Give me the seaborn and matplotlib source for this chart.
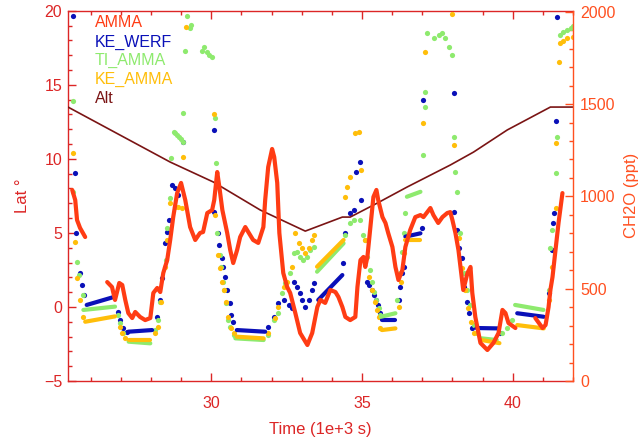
import numpy as np
import pandas as pd
import matplotlib
matplotlib.use("Agg")
import matplotlib.pyplot as plt
import seaborn as sns
from matplotlib.ticker import MultipleLocator

# ---------------- data (time in 1e3 s, CH2O in ppt) ----------------
alt = [(25.25, 1484), (28.64, 1186), (30.07, 1078), (31.63, 926), (33.12, 812),
       (34.35, 888), (34.61, 888), (35.51, 964), (36.50, 1051), (37.93, 1170),
       (38.70, 1240), (39.82, 1360), (41.25, 1484), (42.00, 1484)]

amma_seg0 = [(25.39, 1035), (25.49, 980), (25.55, 872), (25.65, 829), (25.82, 780)]
amma_seg1 = [(26.55, 536), (26.71, 509), (26.81, 439), (26.95, 531), (27.05, 520), (27.15, 439),
             (27.25, 368), (27.38, 341), (27.48, 374), (27.64, 347), (27.81, 330), (27.98, 341),
             (28.08, 477), (28.21, 504), (28.31, 482), (28.41, 585), (28.54, 655), (28.64, 764),
             (28.74, 888), (28.87, 1018), (29.00, 1073), (29.14, 980), (29.30, 834), (29.47, 764),
             (29.63, 802), (29.73, 807), (29.87, 910), (30.03, 926), (30.10, 980), (30.20, 1132),
             (30.27, 1051), (30.37, 926), (30.53, 802), (30.63, 710), (30.73, 639), (30.86, 710),
             (30.96, 780), (31.13, 834), (31.23, 807), (31.39, 764), (31.56, 748), (31.73, 834),
             (31.79, 980), (31.89, 1159), (32.02, 1257), (32.09, 1213), (32.19, 1073), (32.26, 802),
             (32.39, 585), (32.52, 509), (32.62, 477), (32.79, 368), (32.95, 260), (33.19, 195),
             (33.35, 260), (33.52, 401), (33.62, 439), (33.78, 423), (33.95, 493), (34.12, 482),
             (34.22, 455), (34.35, 401), (34.45, 347), (34.61, 330), (34.78, 347), (34.85, 509),
             (34.95, 655), (35.05, 672), (35.11, 618), (35.18, 672), (35.28, 834), (35.38, 997),
             (35.48, 1035), (35.54, 980), (35.68, 888), (35.78, 856), (35.87, 802), (36.01, 726),
             (36.11, 618), (36.21, 547), (36.34, 601), (36.44, 726), (36.60, 818), (36.77, 888),
             (36.94, 899), (37.04, 888), (37.27, 937), (37.37, 899), (37.53, 856), (37.67, 888),
             (37.83, 910), (37.93, 915), (38.00, 872), (38.10, 802), (38.20, 710), (38.36, 493),
             (38.50, 585), (38.60, 618), (38.66, 477), (38.76, 347), (38.93, 206), (39.16, 168),
             (39.36, 206), (39.53, 260), (39.66, 385), (39.76, 368), (39.86, 314), (40.09, 287)]
amma_seg2 = [(40.75, 341), (40.99, 287), (41.09, 303), (41.19, 401), (41.25, 493), (41.32, 563),
             (41.42, 710), (41.52, 856), (41.65, 1018)]

# isolated samples of the three model series
werf_dots = [(25.41, 1979), (25.48, 1128), (25.53, 803), (25.65, 587), (25.71, 520), (25.78, 466),
             (26.92, 375), (26.98, 330), (27.08, 287), (27.21, 267),
             (28.20, 348), (28.31, 439), (28.36, 558), (28.47, 748), (28.54, 809), (28.61, 872),
             (28.70, 1062), (28.81, 1045), (28.90, 1008), (29.08, 1296),
             (30.08, 1360), (30.10, 917), (30.21, 802), (30.27, 737), (30.36, 666), (30.40, 619),
             (30.46, 565), (30.54, 493), (30.61, 421), (30.65, 357), (30.72, 321),
             (31.90, 294), (32.07, 348), (32.23, 421), (32.40, 439), (32.57, 412), (32.68, 394),
             (32.73, 538), (32.84, 511), (32.95, 475), (33.01, 439), (33.12, 403), (33.23, 439),
             (33.34, 493), (33.40, 529),
             (34.37, 638), (34.45, 800), (34.61, 908), (34.72, 926), (34.81, 1134), (34.92, 1188),
             (34.98, 980), (35.17, 538), (35.25, 520), (35.33, 493), (35.41, 466), (35.48, 439),
             (35.52, 412), (35.59, 367),
             (36.22, 439), (36.27, 511), (36.33, 583), (36.38, 619),
             (36.99, 827), (37.04, 1522), (38.04, 1558), (38.04, 917), (38.16, 818), (38.23, 720),
             (38.32, 666), (38.40, 509), (38.50, 430), (38.56, 368), (38.65, 287),
             (39.59, 260),
             (41.19, 475), (41.31, 710), (41.34, 856), (41.36, 910), (41.42, 1410), (41.47, 1973)]
ti_dots = [(25.41, 1518), (25.43, 1025), (25.56, 646), (25.63, 574), (25.74, 466),
           (26.92, 357), (26.98, 312), (27.09, 258),
           (28.14, 276), (28.25, 330), (28.31, 430), (28.51, 655), (28.55, 827), (28.64, 990),
           (28.67, 1206), (28.75, 1350), (28.81, 1343), (28.87, 1333), (28.94, 1322), (29.00, 1311),
           (29.08, 1296), (29.06, 1450), (29.14, 1789), (29.19, 1979), (29.28, 1910), (29.33, 1928),
           (29.69, 1789), (29.77, 1811), (29.86, 1784), (29.94, 1766), (30.02, 1753),
           (30.13, 1423), (30.17, 1179), (30.19, 800), (30.28, 683), (30.32, 619), (30.39, 538),
           (30.43, 493), (30.49, 421), (30.57, 330), (30.63, 294), (30.74, 249),
           (31.90, 249), (32.07, 330), (32.23, 367), (32.35, 475), (32.46, 529), (32.62, 583),
           (32.73, 691), (32.84, 700), (32.95, 673), (33.06, 655), (33.18, 673), (33.29, 710),
           (33.40, 728),
           (34.45, 791), (34.61, 854), (34.72, 872), (34.95, 872), (35.05, 791), (35.11, 764),
           (35.17, 673), (35.28, 601), (35.33, 538), (35.41, 484), (35.48, 439), (35.55, 394),
           (35.61, 357),
           (36.16, 439), (36.27, 583), (36.33, 700), (36.41, 800), (36.44, 908),
           (37.03, 1224), (37.10, 1486), (37.10, 1567), (37.16, 1883), (37.38, 1856), (37.54, 1874),
           (37.66, 1883), (37.77, 1856), (37.88, 1811), (37.99, 1766),
           (38.04, 1323), (38.10, 1134), (38.15, 1025), (38.26, 800), (38.37, 583), (38.49, 493),
           (38.60, 412), (38.71, 303), (38.82, 258),
           (39.65, 258), (39.81, 285), (39.98, 330),
           (41.19, 493), (41.25, 719), (41.31, 818), (41.45, 1125), (41.47, 1323),
           (41.58, 1874), (41.68, 1890), (41.81, 1901), (41.92, 1912), (42.00, 1923)]
keamma_dots = [(25.41, 1237), (25.49, 755), (25.56, 556), (25.65, 439), (25.76, 348),
               (26.96, 294), (27.04, 258), (27.15, 231),
               (28.14, 258), (28.25, 294), (28.33, 430), (28.47, 619), (28.55, 764), (28.64, 962),
               (28.81, 944), (28.90, 940), (29.03, 935), (29.08, 1215), (29.17, 1919),
               (30.10, 1446), (30.13, 899), (30.24, 683), (30.30, 610), (30.36, 538), (30.43, 493),
               (30.50, 430), (30.57, 348), (30.65, 285), (30.74, 258),
               (31.90, 258), (32.12, 340), (32.23, 403), (32.40, 511), (32.51, 538), (32.68, 619),
               (32.79, 800), (32.90, 746), (33.01, 719), (33.12, 691), (33.23, 719), (33.34, 764),
               (33.42, 791),
               (34.45, 998), (34.50, 1052), (34.61, 1106), (34.78, 1341), (34.89, 1350),
               (34.97, 1143), (35.11, 764), (35.22, 565), (35.33, 493), (35.44, 430), (35.50, 385),
               (35.55, 348), (35.61, 285),
               (36.22, 403), (36.30, 538), (36.38, 691),
               (37.04, 1399), (37.10, 1784), (37.99, 1990), (38.04, 1278), (38.23, 775),
               (38.33, 612), (38.43, 493), (38.53, 395), (38.63, 320), (38.73, 260),
               (41.19, 439), (41.31, 619), (41.42, 937), (41.42, 1287), (41.53, 1730),
               (41.58, 1829), (41.68, 1842), (41.81, 1856), (42.00, 1865)]

# quasi-flat stretches where samples merge: (t_start, v_start, t_end, v_end)
werf_runs = [(25.87, 412, 26.81, 457), (27.25, 267, 28.04, 276), (30.85, 276, 31.79, 267),
             (33.55, 439, 34.35, 574), (35.66, 330, 36.11, 330), (36.44, 782, 36.94, 800),
             (38.80, 287, 39.50, 285), (40.15, 367, 41.03, 348)]
ti_runs = [(25.76, 385, 26.81, 403), (27.26, 213, 27.98, 204), (30.80, 231, 31.74, 222),
           (33.51, 592, 34.39, 746), (35.63, 348, 36.11, 367), (36.49, 998, 36.94, 1025),
           (38.97, 231, 39.47, 222), (40.08, 412, 41.02, 385)]
keamma_runs = [(25.82, 321, 26.81, 350), (27.26, 222, 27.98, 222), (30.85, 240, 31.74, 231),
               (33.51, 619, 34.39, 764), (35.66, 276, 36.11, 285), (36.44, 764, 36.94, 764),
               (38.97, 222, 39.56, 205), (40.15, 303, 41.03, 285)]

series_names = ["AMMA", "KE_WERF", "TI_AMMA", "KE_AMMA", "Alt"]
series_colors = ["#ff3c14", "#0a10b8", "#8eea6e", "#ffbe0a", "#7a1414"]
left_color = "#dc2626"
right_color = "#ff5020"

# ---------------- helpers ----------------
def runs_frame(runs):
    rows = []
    for i, (t0, v0, t1, v1) in enumerate(runs):
        rows.append((t0, v0, i))
        rows.append((t1, v1, i))
    return pd.DataFrame(rows, columns=["t", "v", "run"])

def dots_frame(d):
    return pd.DataFrame(d, columns=["t", "v"])

# ---------------- figure ----------------
sns.set_style("white")
plt.rcParams["font.family"] = ["Liberation Sans", "DejaVu Sans"]
fig = plt.figure(figsize=(6.40, 4.41), dpi=100)
ax = fig.add_axes([67.7 / 640, 1 - 381 / 441, (573 - 67.7) / 640, (381 - 10.7) / 441])
ax2 = ax.twinx()

# Alt line
sns.lineplot(data=dots_frame(alt), x="t", y="v", ax=ax2, color=series_colors[4],
             lw=1.2, estimator=None, sort=False)

# model series: runs as thick strokes, isolated samples as dots
for dots, runs, col in [(werf_dots, werf_runs, series_colors[1]),
                        (ti_dots, ti_runs, series_colors[2]),
                        (keamma_dots, keamma_runs, series_colors[3])]:
    sns.lineplot(data=runs_frame(runs), x="t", y="v", units="run", estimator=None,
                 ax=ax2, color=col, lw=3.0, sort=False, solid_capstyle="round")
    sns.scatterplot(data=dots_frame(dots), x="t", y="v", ax=ax2, color=col, s=14,
                    linewidth=0)

# AMMA measurement
amma_rows = []
for i, seg in enumerate([amma_seg0, amma_seg1, amma_seg2]):
    for t, v in seg:
        amma_rows.append((t, v, i))
amma_df = pd.DataFrame(amma_rows, columns=["t", "v", "seg"])
sns.lineplot(data=amma_df, x="t", y="v", units="seg", estimator=None, ax=ax2,
             color=series_colors[0], lw=3.0, sort=False, solid_capstyle="round",
             solid_joinstyle="round")

# ---------------- axes styling ----------------
ax.set_xlim(25.24, 42.0)
ax.set_ylim(-5, 20)
ax2.set_ylim(0, 2006)

for a in (ax, ax2):
    a.set_facecolor("none")
    for s in a.spines.values():
        s.set_linewidth(1.0)
ax.spines["left"].set_color(left_color)
ax.spines["bottom"].set_color(left_color)
ax.spines["top"].set_color(left_color)
ax.spines["right"].set_visible(False)
ax2.spines["left"].set_visible(False)
ax2.spines["bottom"].set_visible(False)
ax2.spines["top"].set_visible(False)
ax2.spines["right"].set_color(right_color)

ax.xaxis.set_major_locator(MultipleLocator(5))
ax.xaxis.set_minor_locator(MultipleLocator(1))
ax.yaxis.set_major_locator(MultipleLocator(5))
ax.yaxis.set_minor_locator(MultipleLocator(1))
ax2.yaxis.set_major_locator(MultipleLocator(500))
ax2.yaxis.set_minor_locator(MultipleLocator(100))

ax.tick_params(axis="x", which="both", direction="in", top=True, bottom=True,
               colors=left_color, labelsize=11.5, pad=11)
ax.tick_params(axis="y", which="both", direction="in", left=True, right=False,
               colors=left_color, labelsize=11.5, pad=4)
ax2.tick_params(axis="y", which="both", direction="in", right=True, left=False,
                colors=right_color, labelsize=11.5, pad=5)
for a in (ax, ax2):
    a.tick_params(which="major", length=6, width=1.0)
    a.tick_params(which="minor", length=3, width=1.0)

ax.set_xlabel("Time (1e+3 s)", color=left_color, fontsize=12)
ax.xaxis.set_label_coords(0.5, -0.111)
ax.set_ylabel("Lat °", color=left_color, fontsize=12)
ax.yaxis.set_label_coords(-0.075, 0.5)
ax2.set_ylabel("CH2O (ppt)", color=right_color, fontsize=12)
ax2.yaxis.set_label_coords(1.101, 0.5)

# text legend
leg_y = [0.967, 0.915, 0.867, 0.815, 0.764]
for name, col, yy in zip(series_names, series_colors, leg_y):
    ax.text(0.054, yy, name, color=col, fontsize=11.5, transform=ax.transAxes,
            ha="left", va="center")

fig.savefig("out.png", dpi=100)
